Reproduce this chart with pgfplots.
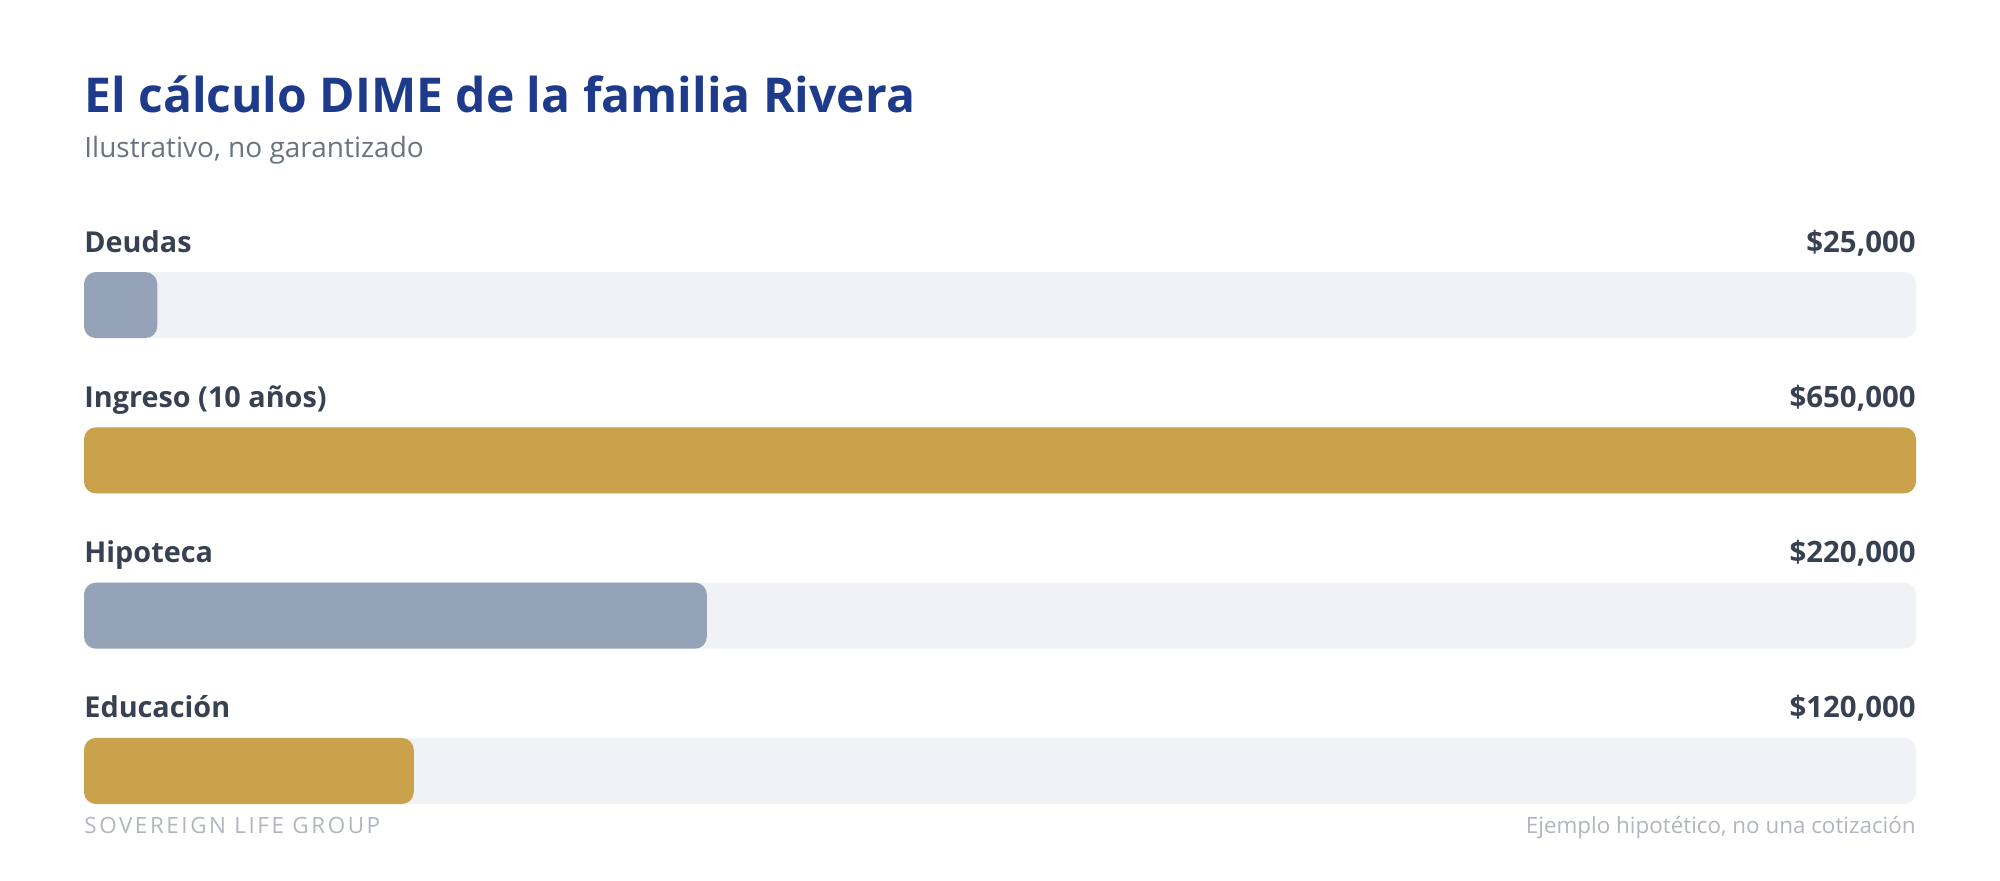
\documentclass[border=0pt]{standalone}
\usepackage{pgfplots}
\pgfplotsset{compat=1.18}
\usepackage{fontspec}
\setmainfont{Open Sans}
\definecolor{titleblue}{HTML}{1E3A8A}
\definecolor{subgray}{HTML}{6B7280}
\definecolor{labelc}{HTML}{374151}
\definecolor{track}{HTML}{F1F2F5}
\definecolor{slate}{HTML}{94A3B8}
\definecolor{gold}{HTML}{C9A24B}
\definecolor{foot}{HTML}{B0B5BF}
\begin{document}
\begin{tikzpicture}
\path[use as bounding box] (0pt,0pt) rectangle (1000pt,-440pt);
\begin{axis}[
  at={(42pt,-402pt)}, anchor=south west,
  scale only axis, width=916pt, height=266pt,
  xbar, bar width=0.4258, bar shift=0pt,
  xmin=0, xmax=650000, ymin=-0.2129, ymax=3.2129, y dir=reverse,
  enlargelimits=false, hide axis, clip=false,
  every axis plot/.append style={draw=none, rounded corners=6pt},
]
\addplot[fill=track] coordinates {(650000,0) (650000,1) (650000,2) (650000,3)};
\addplot[fill=slate] coordinates {(26000,0) (221000,2)};
\addplot[fill=gold] coordinates {(650000,1) (117000,3)};
\end{axis}
\node[anchor=base west, inner sep=0pt, font=\fontsize{24pt}{28pt}\selectfont\bfseries, text=titleblue] at (42pt,-56pt) {El cálculo DIME de la familia Rivera};
\node[anchor=base west, inner sep=0pt, font=\fontsize{14pt}{16pt}\selectfont, text=subgray] at (42pt,-78.5pt) {Ilustrativo, no garantizado};
\foreach \lab/\val/\yy in {Deudas/{\$25,000}/126, Ingreso (10 años)/{\$650,000}/203.5, Hipoteca/{\$220,000}/281, Educación/{\$120,000}/358.5}{
  \node[anchor=base west, inner sep=0pt, font=\fontsize{14.4pt}{17pt}\selectfont\bfseries, text=labelc] at (42pt,-\yy pt) {\lab};
  \node[anchor=base east, inner sep=0pt, font=\fontsize{14.7pt}{17pt}\selectfont\bfseries, text=labelc] at (958pt,-\yy pt) {\val};
}
\node[anchor=base west, inner sep=0pt, font=\fontsize{11.2pt}{13pt}\selectfont\addfontfeatures{LetterSpace=11.5}, text=foot] at (42pt,-416.5pt) {SOVEREIGN LIFE GROUP};
\node[anchor=base east, inner sep=0pt, font=\fontsize{11.2pt}{13pt}\selectfont, text=foot] at (958pt,-416.5pt) {Ejemplo hipotético, no una cotización};
\end{tikzpicture}
\end{document}
